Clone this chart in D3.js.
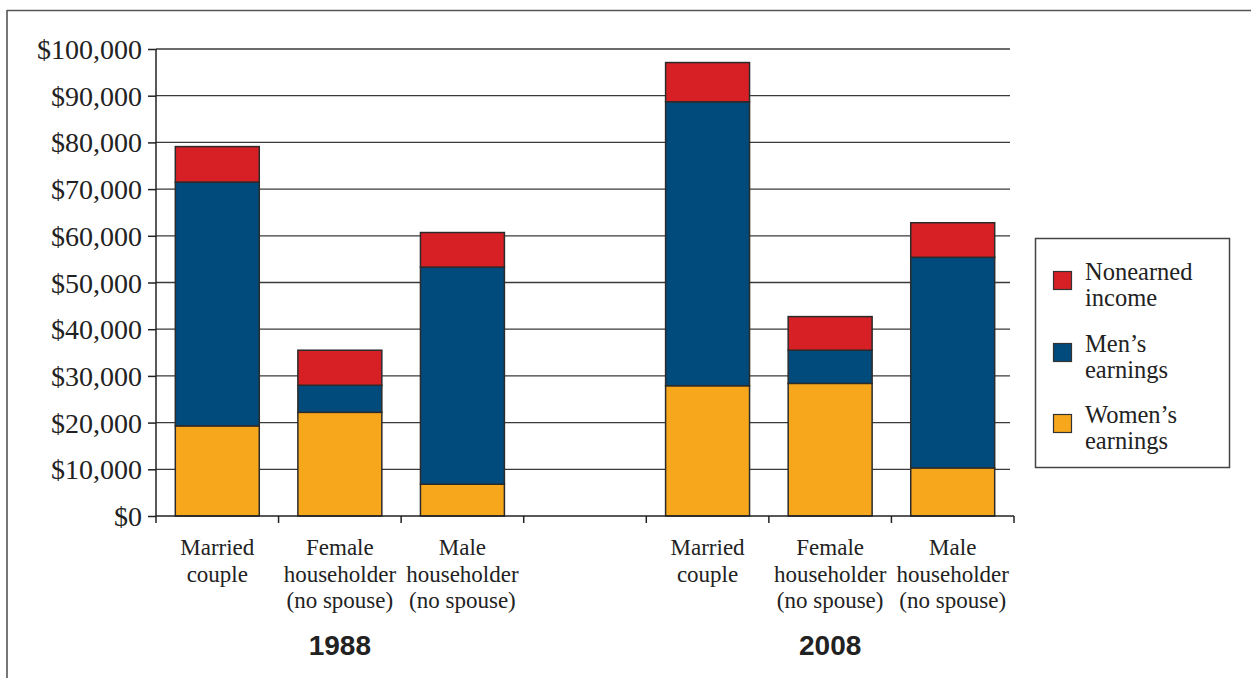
<!DOCTYPE html>
<html><head><meta charset="utf-8">
<script src="https://cdn.jsdelivr.net/npm/d3@7"></script>
<style>
html,body{margin:0;padding:0;background:#fff;}
svg{display:block;}
</style></head>
<body>
<script>
// ---- data ----
const categories = ["Married couple", "Female householder (no spouse)", "Male householder (no spouse)", "", "Married couple 2008", "Female householder 2008", "Male householder 2008"];
const categoryLabels = [
  ["Married","couple"],
  ["Female","householder","(no spouse)"],
  ["Male","householder","(no spouse)"],
  [],
  ["Married","couple"],
  ["Female","householder","(no spouse)"],
  ["Male","householder","(no spouse)"]
];
const womensEarnings = [19300, 22200, 6800, null, 27900, 28400, 10300];
const mensEarnings   = [52200, 5800, 46500, null, 60800, 7100, 45100];
const nonearnedIncome = [7600, 7500, 7400, null, 8400, 7200, 7400];
const seriesNames = ["Women’s earnings", "Men’s earnings", "Nonearned income"];
const seriesColors = ["#f7a71c", "#004a7c", "#d71f26"];
const legendLabels = [["Nonearned","income"],["Men’s","earnings"],["Women’s","earnings"]];
const yTicks = [0,10000,20000,30000,40000,50000,60000,70000,80000,90000,100000];
const yearLabels = ["1988", "2008"];
const yearGroups = [[0,2],[4,6]];

// ---- layout ----
const W = 1251, H = 678;
const svg = d3.select("body").append("svg").attr("width", W).attr("height", H);

// frame (top and left only)
svg.append("line").attr("x1",7).attr("x2",W).attr("y1",10.5).attr("y2",10.5).attr("stroke","#555").attr("stroke-width",1.6);
svg.append("line").attr("x1",7).attr("x2",7).attr("y1",10).attr("y2",H).attr("stroke","#555").attr("stroke-width",1.6);

const x0 = 156, x1 = 1014, yTop = 49, yBot = 516;
const x = d3.scaleBand().domain(categories).range([x0, x1]).paddingInner(0.315).paddingOuter(0.1575);
const y = d3.scaleLinear().domain([0, 100000]).range([yBot, yTop]);

const serif = "'Liberation Serif','Times New Roman',serif";

// gridlines
svg.append("g").selectAll("line").data(yTicks.filter(d=>d>0)).join("line")
  .attr("x1", x0).attr("x2", 1010)
  .attr("y1", d=>y(d)).attr("y2", d=>y(d))
  .attr("stroke","#3a3a3a").attr("stroke-width",1.3);

// y axis
const yAxis = d3.axisLeft(y).tickValues(yTicks).tickSize(8).tickPadding(6)
  .tickFormat(d => "$" + d3.format(",")(d));
const gy = svg.append("g").attr("transform", `translate(${x0},0)`).call(yAxis);
gy.select(".domain").attr("stroke","#222").attr("stroke-width",1.5).attr("d", `M-0,${yBot}V${yTop}`);
gy.selectAll(".tick line").attr("stroke","#222").attr("stroke-width",1.5);
gy.selectAll(".tick text").style("font-family", serif).attr("font-size", 28).attr("fill","#222").attr("dy","0.34em");

// stacked bars
const rows = categories.map((c,i)=>({cat:c, w:womensEarnings[i], m:mensEarnings[i], n:nonearnedIncome[i]})).filter(r=>r.w!=null);
const stack = d3.stack().keys(["w","m","n"])(rows);
svg.append("g").selectAll("g").data(stack).join("g")
  .attr("fill",(d,i)=>seriesColors[i])
  .selectAll("rect").data(d=>d).join("rect")
  .attr("x", d=>x(d.data.cat)).attr("width", x.bandwidth())
  .attr("y", d=>y(d[1])).attr("height", d=>y(d[0])-y(d[1]))
  .attr("stroke","#2b2b2b").attr("stroke-width",1.5);

// x axis
const xAxisLine = svg.append("g");
xAxisLine.append("line").attr("x1",x0).attr("x2",x1).attr("y1",yBot).attr("y2",yBot).attr("stroke","#222").attr("stroke-width",1.5);
const edges = categories.map(c=>x(c) - x.step()*x.paddingInner()/2).concat([x1]);
xAxisLine.selectAll(".xt").data(edges).join("line").attr("class","xt")
  .attr("x1",d=>d).attr("x2",d=>d).attr("y1",yBot).attr("y2",yBot+7)
  .attr("stroke","#222").attr("stroke-width",1.5);

// category labels
const cl = svg.append("g").selectAll("text").data(categories).join("text")
  .attr("x", c=>x(c)+x.bandwidth()/2).attr("y", 555)
  .attr("text-anchor","middle").style("font-family", serif).attr("font-size",23).attr("fill","#222");
cl.each(function(c,i){
  d3.select(this).selectAll("tspan").data(categoryLabels[i]).join("tspan")
    .attr("x", x(c)+x.bandwidth()/2).attr("dy",(d,j)=>j===0?0:26.5).text(d=>d);
});

// year labels
svg.append("g").selectAll("text").data(yearLabels).join("text")
  .attr("x",(d,i)=>{const g=yearGroups[i]; return (x(categories[g[0]]) + x(categories[g[1]]) + x.bandwidth())/2;})
  .attr("y",655).attr("text-anchor","middle")
  .style("font-family","'Liberation Sans',Arial,sans-serif").attr("font-weight","bold").attr("font-size",28).attr("fill","#222")
  .text(d=>d);

// legend
const lg = svg.append("g");
lg.append("rect").attr("x",1035.5).attr("y",238.5).attr("width",194).attr("height",229)
  .attr("fill","#fff").attr("stroke","#444").attr("stroke-width",1.5);
const legendColors = [seriesColors[2], seriesColors[1], seriesColors[0]];
const legendY = [271, 343, 414];
legendLabels.forEach((lab,i)=>{
  lg.append("rect").attr("x",1053.5).attr("y",legendY[i]+0.5).attr("width",18).attr("height",18)
    .attr("fill",legendColors[i]).attr("stroke","#333").attr("stroke-width",1.2);
  const t = lg.append("text").attr("x",1085).attr("y",legendY[i]+9)
    .style("font-family",serif).attr("font-size",24.5).attr("fill","#222");
  t.selectAll("tspan").data(lab).join("tspan").attr("x",1085).attr("dy",(d,j)=>j===0?0:25.5).text(d=>d);
});
</script>
</body></html>
